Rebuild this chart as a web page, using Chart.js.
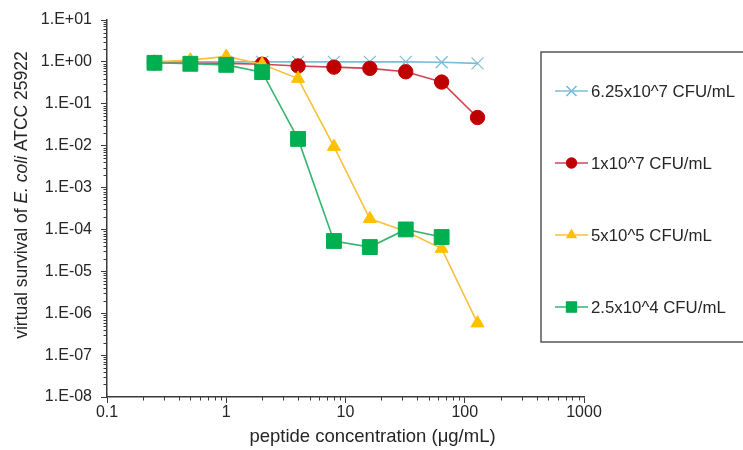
<!DOCTYPE html>
<html>
<head>
<meta charset="utf-8">
<script src="https://cdn.jsdelivr.net/npm/chart.js@4"></script>
<style>
  html, body { margin: 0; padding: 0; background: #fff; }
  #wrap { width: 743px; height: 450px; }
</style>
</head>
<body>
<div id="wrap"><canvas id="c" width="743" height="450"></canvas></div>
<script>
// peptide concentration (ug/mL)
const concentrations = [0.25, 0.5, 1, 2, 4, 8, 16, 32, 64, 128];

// survival per inoculum
const survival625e7 = [1.0, 1.0, 1.0, 1.0, 1.0, 1.0, 1.0, 1.0, 0.98, 0.92];
const survival1e7 = [0.95, 0.93, 0.92, 0.88, 0.8, 0.75, 0.7, 0.58, 0.33, 0.047];
const survival5e5 = [1.0, 1.1, 1.35, 0.88, 0.4, 0.0095, 1.8e-4, 9e-5, 3.5e-5, 5.8e-7];
const survival25e4 = [0.95, 0.9, 0.85, 0.57, 0.0145, 5.3e-5, 3.8e-5, 1.0e-4, 6.6e-5];

const seriesLabels = ['6.25x10^7 CFU/mL', '1x10^7 CFU/mL', '5x10^5 CFU/mL', '2.5x10^4 CFU/mL'];

const xTicks = [0.1, 1, 10, 100, 1000];
const yTicks = [1e-8, 1e-7, 1e-6, 1e-5, 1e-4, 1e-3, 1e-2, 1e-1, 1, 10];

const FONT = '"Liberation Sans", Arial, sans-serif';
const AXIS = '#3a3a3a';
const TEXT = '#262626';

function toPoints(ys) {
    return ys.map((y, i) => ({ x: concentrations[i], y: y }));
}

function yLabel(v) {
    const e = Math.round(Math.log10(v));
    return '1.E' + (e >= 0 ? '+' : '-') + String(Math.abs(e)).padStart(2, '0');
}

// short minor ticks on log axes
const minorTicks = {
    id: 'minorTicks',
    afterDraw(chart) {
        const ctx = chart.ctx;
        const xs = chart.scales.x, ys = chart.scales.y;
        ctx.save();
        ctx.strokeStyle = AXIS;
        ctx.lineWidth = 1;
        ctx.beginPath();
        for (let d = -1; d < 3; d++) {
            for (let k = 2; k <= 9; k++) {
                const px = Math.round(xs.getPixelForValue(k * Math.pow(10, d))) + 0.5;
                ctx.moveTo(px, xs.top);
                ctx.lineTo(px, xs.top + 3.5);
            }
        }
        for (let d = -8; d < 1; d++) {
            for (let k = 2; k <= 9; k++) {
                const py = Math.round(ys.getPixelForValue(k * Math.pow(10, d))) + 0.5;
                ctx.moveTo(ys.right, py);
                ctx.lineTo(ys.right - 3.5, py);
            }
        }
        ctx.stroke();
        ctx.restore();
    }
};

// axis titles (y title has italic species name)
const axisTitles = {
    id: 'axisTitles',
    afterDraw(chart) {
        const ctx = chart.ctx;
        const area = chart.chartArea;
        ctx.save();
        ctx.fillStyle = TEXT;
        ctx.textBaseline = 'middle';

        ctx.font = '18.5px ' + FONT;
        ctx.textAlign = 'center';
        ctx.fillText('peptide concentration (\u03bcg/mL)', (area.left + area.right) / 2 + 27, 437);

        const parts = [
            ['virtual survival of ', '17.5px ' + FONT],
            ['E. coli', 'italic 17.5px ' + FONT],
            [' ATCC 25922', '17.5px ' + FONT]
        ];
        let total = 0;
        parts.forEach(p => { ctx.font = p[1]; total += ctx.measureText(p[0]).width; });
        ctx.translate(22, 195);
        ctx.rotate(-Math.PI / 2);
        ctx.textAlign = 'left';
        let x = -total / 2;
        parts.forEach(p => {
            ctx.font = p[1];
            ctx.fillText(p[0], x, 0);
            x += ctx.measureText(p[0]).width;
        });
        ctx.restore();
    }
};

// boxed legend on the right
const boxLegend = {
    id: 'boxLegend',
    afterDraw(chart) {
        const ctx = chart.ctx;
        ctx.save();
        ctx.strokeStyle = '#555';
        ctx.lineWidth = 1.5;
        ctx.strokeRect(541, 52, 220, 290);

        chart.data.datasets.forEach((ds, i) => {
            const y = 91 + 72 * i;
            ctx.strokeStyle = ds.borderColor;
            ctx.lineWidth = 1.5;
            ctx.beginPath();
            ctx.moveTo(555, y);
            ctx.lineTo(588, y);
            ctx.stroke();
            Chart.helpers.drawPoint(ctx, {
                pointStyle: ds.pointStyle,
                radius: ds.legendRadius,
                rotation: 0,
                borderWidth: 1
            }, 571.5, y);
            // drawPoint only builds the path for some styles, so fill/stroke here
            ctx.fillStyle = ds.pointBackgroundColor;
            ctx.strokeStyle = ds.pointBorderColor;
            ctx.lineWidth = 1;
            if (ds.pointStyle !== 'crossRot') ctx.fill();
            ctx.stroke();

            ctx.fillStyle = TEXT;
            ctx.font = '16.8px ' + FONT;
            ctx.textAlign = 'left';
            ctx.textBaseline = 'middle';
            ctx.fillText(seriesLabels[i], 591, y + 1);
        });
        ctx.restore();
    }
};

const datasets = [
    {
        label: seriesLabels[0],
        data: toPoints(survival625e7),
        borderColor: '#7bbcd8',
        pointStyle: 'crossRot',
        pointRadius: 8.5,
        pointBorderColor: '#7bbcd8',
        pointBackgroundColor: '#7bbcd8',
        pointBorderWidth: 1.2,
        legendRadius: 7,
        order: 3
    },
    {
        label: seriesLabels[1],
        data: toPoints(survival1e7),
        borderColor: '#cf4651',
        pointStyle: 'circle',
        pointRadius: 7.2,
        pointBorderColor: '#c00000',
        pointBackgroundColor: '#c00000',
        pointBorderWidth: 1,
        legendRadius: 5,
        order: 2
    },
    {
        label: seriesLabels[2],
        data: toPoints(survival5e5),
        borderColor: '#f7c13e',
        pointStyle: 'triangle',
        pointRadius: 7.5,
        pointBorderColor: '#ffc000',
        pointBackgroundColor: '#ffc000',
        pointBorderWidth: 1,
        legendRadius: 5,
        order: 1
    },
    {
        label: seriesLabels[3],
        data: toPoints(survival25e4),
        borderColor: '#37b56f',
        pointStyle: 'rect',
        pointRadius: 10.5,
        pointBorderColor: '#00b050',
        pointBackgroundColor: '#00b050',
        pointBorderWidth: 1,
        legendRadius: 7,
        order: 0
    }
];
datasets.forEach(ds => {
    ds.borderWidth = 1.6;
    ds.fill = false;
    ds.tension = 0;
});

new Chart(document.getElementById('c'), {
    type: 'line',
    data: { datasets: datasets },
    plugins: [minorTicks, axisTitles, boxLegend],
    options: {
        responsive: false,
        animation: false,
        events: [],
        layout: { padding: { top: 20, right: 159, left: 0, bottom: 0 } },
        plugins: {
            legend: { display: false },
            tooltip: { enabled: false },
            title: { display: false }
        },
        scales: {
            x: {
                type: 'logarithmic',
                min: 0.1,
                max: 1000,
                afterBuildTicks: s => { s.ticks = xTicks.map(v => ({ value: v })); },
                afterFit: s => { s.height = 53; },
                grid: { drawOnChartArea: false, tickLength: 6, color: AXIS, lineWidth: 1 },
                border: { color: AXIS, width: 1.5 },
                ticks: {
                    autoSkip: false,
                    maxRotation: 0,
                    padding: 0,
                    color: TEXT,
                    font: { family: FONT, size: 16 },
                    callback: v => String(v)
                }
            },
            y: {
                type: 'logarithmic',
                min: 1e-8,
                max: 10,
                afterBuildTicks: s => { s.ticks = yTicks.map(v => ({ value: v })); },
                afterFit: s => { s.width = 107; },
                grid: { drawOnChartArea: false, tickLength: 6, color: AXIS, lineWidth: 1 },
                border: { color: AXIS, width: 1.5 },
                ticks: {
                    autoSkip: false,
                    padding: 9,
                    color: TEXT,
                    font: { family: FONT, size: 16 },
                    callback: v => yLabel(v)
                }
            }
        }
    }
});
</script>
</body>
</html>
